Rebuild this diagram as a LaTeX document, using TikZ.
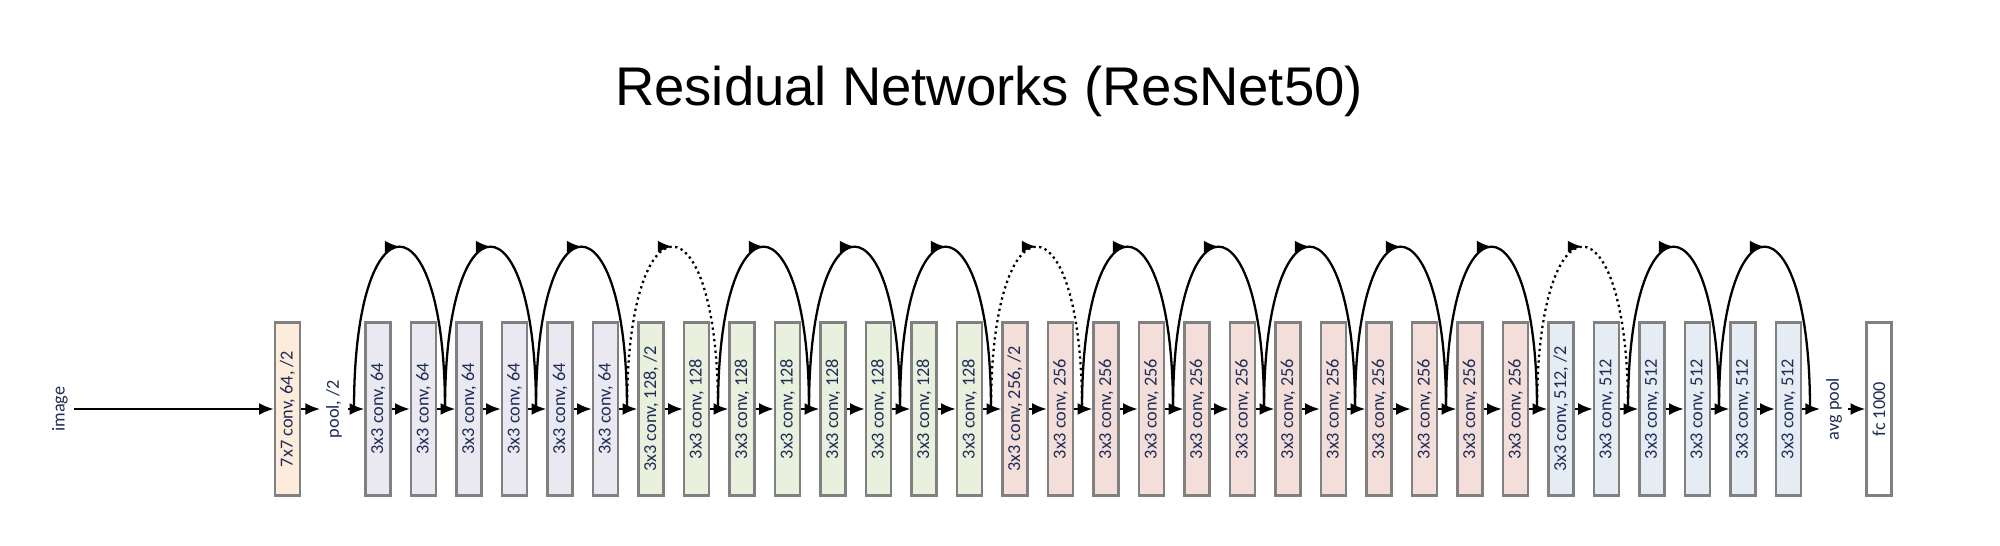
\documentclass[tikz,border=0pt]{standalone}
\usepackage{fontspec}
\usepackage{graphicx}
\usepackage{xcolor}
\usepackage{tikz}
\usetikzlibrary{arrows.meta}
\usetikzlibrary{decorations.markings}
\setmainfont{Carlito}
\newfontfamily\titlefont{Liberation Sans}
\definecolor{ink}{RGB}{30,45,85}
\definecolor{edge}{RGB}{128,128,128}
\definecolor{blkS}{RGB}{253,235,220}
\definecolor{blkA}{RGB}{234,232,241}
\definecolor{blkB}{RGB}{233,240,221}
\definecolor{blkC}{RGB}{243,222,218}
\definecolor{blkD}{RGB}{230,236,244}
\tikzset{>={Latex[length = 4.2pt, width = 3.4pt]}}
\tikzstyle{box} = [rectangle, draw = edge, line width = 0.6pt, inner sep = 0, minimum width = 0.25cm, minimum height = 1.73cm, text = ink, font = \fontsize{5.2}{6}\selectfont]
\tikzstyle{lbl} = [draw = none, inner sep = 1.5pt, text = ink, font = \fontsize{5.2}{6}\selectfont]
\tikzstyle{arr} = [->, draw = black, line width = 0.7pt]
\tikzstyle{skip} = [-, line width = 0.65pt, out = 90, in = 90, looseness = 6.1, postaction = {decorate}, decoration = {markings, mark = at position 0.5 with {\arrow{>}}}]

\begin{document}
\begin{tikzpicture}
\useasboundingbox (0, 0) rectangle (20, 5.45);
\node [anchor = base] (title) at (9.89, 4.40) {\titlefont\fontsize{15.5}{18}\selectfont Residual Networks (ResNet50)};
\node [lbl] (img) at (0.60, 1.36) {\rotatebox{90}{image}};
\node [box, fill = blkS] (c0) at (2.875, 1.36) {\rotatebox{90}{7x7 conv, 64, /2}};
\node [lbl] (pool) at (3.34, 1.36) {\rotatebox{90}{pool, /2}};
\foreach \i in {1,...,6}
  \node [box, fill = blkA] (c\i) at ({3.78 + (\i - 1)*0.455}, 1.36) {\rotatebox{90}{3x3 conv, 64}};
\foreach \i in {7,...,14}
  \node [box, fill = blkB] (c\i) at ({3.78 + (\i - 1)*0.455}, 1.36) {\rotatebox{90}{3x3 conv, 128\ifnum\i=7, /2\fi}};
\foreach \i in {15,...,26}
  \node [box, fill = blkC] (c\i) at ({3.78 + (\i - 1)*0.455}, 1.36) {\rotatebox{90}{3x3 conv, 256\ifnum\i=15, /2\fi}};
\foreach \i in {27,...,32}
  \node [box, fill = blkD] (c\i) at ({3.78 + (\i - 1)*0.455}, 1.36) {\rotatebox{90}{3x3 conv, 512\ifnum\i=27, /2\fi}};
\node [lbl] (avg) at (18.34, 1.36) {\rotatebox{90}{avg pool}};
\node [box, fill = white] (fc) at (18.79, 1.36) {\rotatebox{90}{fc 1000}};
\foreach \i in {1,...,33}
  \coordinate (s\i) at ({3.54 + (\i - 1)*0.455}, 1.36);

\draw [arr] (img) -- (c0);
\draw [arr] (c0) -- (pool);
\draw [arr] (pool) -- (c1);
\foreach \i in {1,...,31} {
  \pgfmathtruncatemacro{\j}{\i + 1}
  \draw [arr] (c\i) -- (c\j);
}
\draw [arr] (c32) -- (avg);
\draw [arr] (avg) -- (fc);

\foreach \i in {1,3,5,9,11,13,17,19,21,23,25,29,31} {
  \pgfmathtruncatemacro{\j}{\i + 2}
  \draw [skip] (s\i) to (s\j);
}
\foreach \i in {7,15,27} {
  \pgfmathtruncatemacro{\j}{\i + 2}
  \draw [skip, densely dotted] (s\i) to (s\j);
}
\end{tikzpicture}
\end{document}
